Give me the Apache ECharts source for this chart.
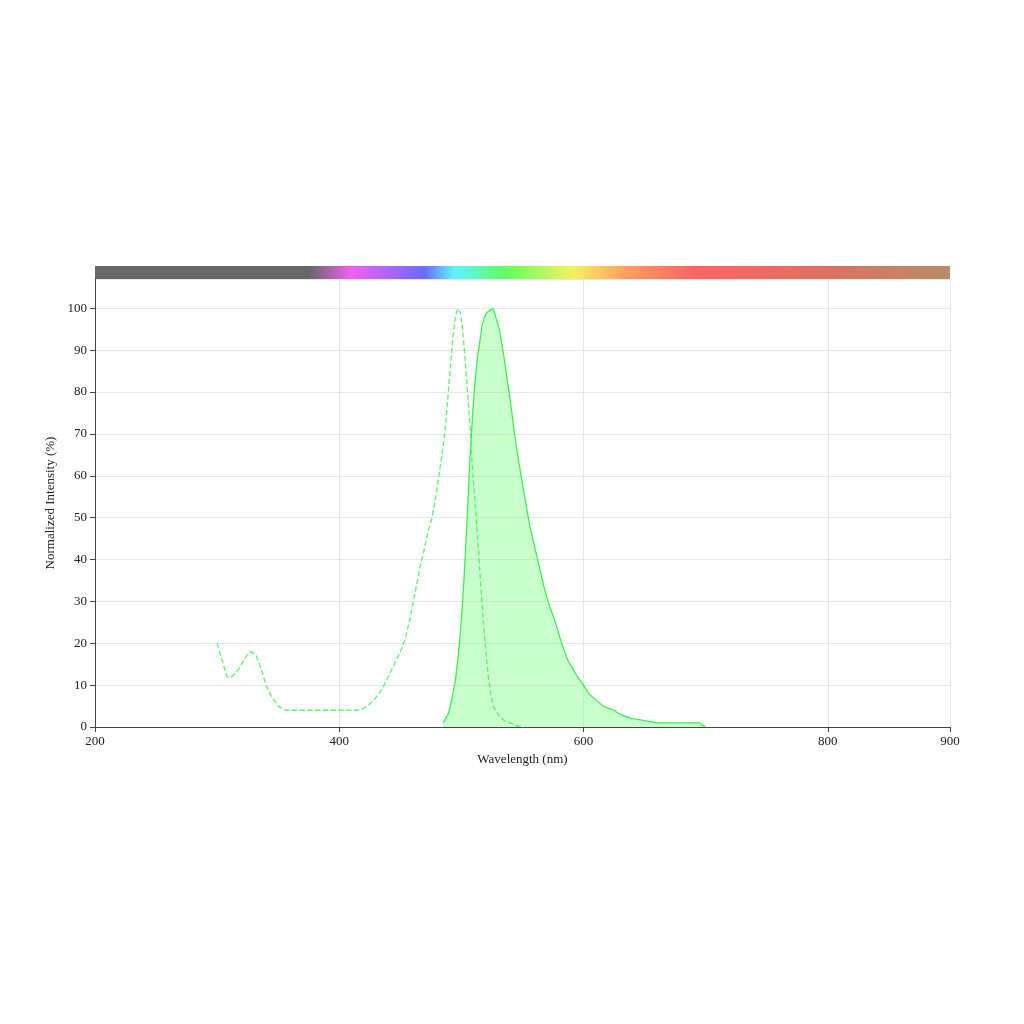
<!DOCTYPE html>
<html><head><meta charset="utf-8">
<script src="https://cdn.jsdelivr.net/npm/echarts@6/dist/echarts.min.js"></script>
<style>html,body{margin:0;background:#fff}#c{width:1024px;height:1024px}</style>
</head><body><div id="c"></div>
<script>
const exWl = [300,305,308,312,318,324,328,332,336,340,345,350,356,362,366,380,400,415,420,425,430,435,440,445,450,454,458,462,466,470,473,476,479,482,485,487,489,491,493,495,497,499,501,503,505,507,509,512,514,516,518,520,522,524,526,530,535,540,545,550];
const exVal = [20,15,12,12,14,17,18,17,14,10,7,5,4,4,4,4,4,4,4.5,5.5,7,9,12,15,18,21,26,32,38,43,47,50,55,61,67,72,79,86,93,98,100,99,95,88,80,72,62,50,42,33,25,18,12,8,5,3,1.5,1,0.3,0];
const emWl = [485,487,489,491,493,495,497,499,501,503,505,507,509,511,513,515,517,519,521,523,526,528,531,534,537,540,543,546,550,553,556,560,564,568,572,577,582,587,591,595,600,604,608,612,616,620,625,630,635,640,650,660,670,680,690,695,697,700];
const emVal = [1,2,3,5,8,11,16,22,30,40,52,64,74,82,88,92,96,98,99,99.5,100,98,95,90,84,78,71,65,58,53,48,43,38,33,29,25,20,16,14,12,10,8,7,6,5,4.5,4,3,2.5,2,1.5,1,1,1,1,1,0.5,0];
const xTicks = [200,400,600,800,900];
const spectrumStops = [
 [0,'#666666'],[0.25,'#666666'],[0.3,'#f060f0'],[0.385,'#6a6cff'],[0.42,'#60f0ff'],[0.48,'#60ff60'],[0.56,'#f4f060'],[0.62,'#ffa060'],[0.7,'#ff6464'],[0.86,'#dc7264'],[1,'#b88c68']];
const ex = exWl.map((w,i)=>[w,exVal[i]]);
const em = emWl.map((w,i)=>[w,emVal[i]]);
const ch = echarts.init(document.getElementById('c'));
const font = 'Liberation Serif, Times New Roman, serif';
ch.setOption({
 animation:false,
 grid:{left:95,right:74,top:279,bottom:297},
 graphic:[{type:'rect',shape:{x:95,y:266,width:855,height:13},
   style:{fill:new echarts.graphic.LinearGradient(0,0,1,0,spectrumStops.map(s=>({offset:s[0],color:s[1]})))}}],
 xAxis:{type:'value',min:200,max:900,interval:200,name:'Wavelength (nm)',nameLocation:'middle',nameGap:26,
   nameTextStyle:{fontFamily:font,fontSize:13,color:'#222'},
   axisLine:{lineStyle:{color:'#444'}},axisTick:{show:true,lineStyle:{color:'#444'}},
   axisLabel:{fontFamily:font,fontSize:13,color:'#222',showMaxLabel:true,
     customValues:xTicks},
   splitLine:{lineStyle:{color:'#e6e6e6'}}},
 yAxis:{type:'value',min:0,max:107,interval:10,name:'Normalized Intensity (%)',nameLocation:'middle',nameGap:35,
   nameTextStyle:{fontFamily:font,fontSize:13,color:'#222'},
   axisLine:{show:true,lineStyle:{color:'#444'}},axisTick:{show:true,lineStyle:{color:'#444'}},
   axisLabel:{fontFamily:font,fontSize:13,color:'#222',showMaxLabel:false},
   splitLine:{lineStyle:{color:'#e6e6e6'}}},
 series:[
  {type:'line',data:ex,showSymbol:false,lineStyle:{color:'#5df56a',width:1.3,type:'dashed'}},
  {type:'line',data:em,showSymbol:false,lineStyle:{color:'#3ef04f',width:1.3},areaStyle:{color:'rgba(100,255,110,0.5)'}}
 ]
});
</script></body></html>
